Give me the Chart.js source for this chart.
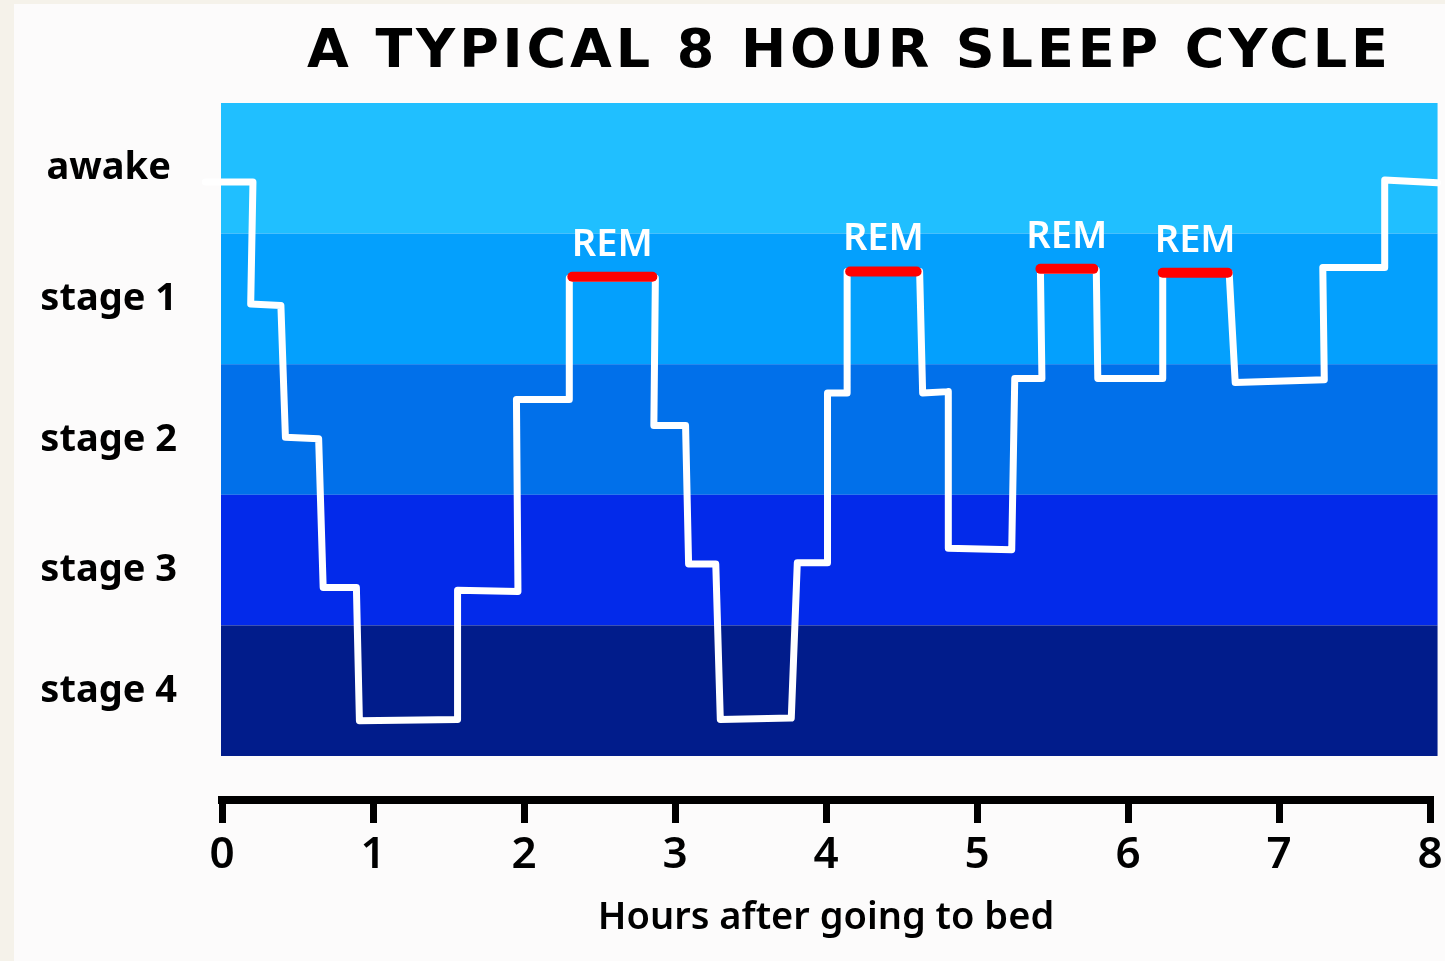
<!DOCTYPE html>
<html>
<head>
<meta charset="utf-8">
<script src="https://cdn.jsdelivr.net/npm/chart.js@4.4.1/dist/chart.umd.min.js"></script>
<style>
  html, body { margin: 0; padding: 0; background: #fcfbfb; }
  canvas { display: block; }
</style>
</head>
<body>
<canvas id="sleepChart" width="1445" height="961"></canvas>
<script>
// values
const hourTicks = [0, 1, 2, 3, 4, 5, 6, 7, 8];
const stageLabels = ["awake", "stage 1", "stage 2", "stage 3", "stage 4"];
const stageLevels = [0, 1, 2, 3, 4];
// where each stage name sits against the bands
const stageLabelPos = [0, 1, 2.08, 3.08, 4];
const bandColors = ["#20bfff", "#04a0fd", "#0170ea", "#032aea", "#011c8b"];

// hours after going to bed / depth (0 = awake, 4 = stage 4)
const sleepHours = [-0.11, 0.205, 0.19, 0.39, 0.42, 0.64, 0.67, 0.89, 0.91, 1.56,
  1.56, 1.96, 1.95, 2.30, 2.30, 2.87, 2.86, 3.07, 3.09, 3.27,
  3.30, 3.77, 3.81, 4.01, 4.01, 4.14, 4.14, 4.62, 4.64, 4.81,
  4.81, 5.23, 5.25, 5.43, 5.42, 5.79, 5.80, 6.23, 6.23, 6.67,
  6.71, 7.30, 7.29, 7.70, 7.70, 8.05];
const sleepStage = [0.105, 0.105, 1.04, 1.05, 2.06, 2.07, 3.21, 3.21, 4.23, 4.22,
  3.23, 3.24, 1.77, 1.77, 0.84, 0.84, 1.97, 1.97, 3.03, 3.03,
  4.22, 4.21, 3.02, 3.02, 1.72, 1.72, 0.79, 0.79, 1.72, 1.71,
  2.91, 2.92, 1.61, 1.61, 0.78, 0.78, 1.61, 1.61, 0.80, 0.80,
  1.64, 1.62, 0.76, 0.76, 0.09, 0.11];

// REM periods
const remStart = [2.32, 4.16, 5.42, 6.23];
const remEnd = [2.85, 4.60, 5.77, 6.66];
const remLevel = [0.83, 0.79, 0.77, 0.80];
const remLabel = "REM";

const TITLE = "A TYPICAL 8 HOUR SLEEP CYCLE";

const backgroundPlugin = {
  id: "pageBackground",
  beforeDraw(chart) {
    const ctx = chart.ctx;
    ctx.save();
    ctx.fillStyle = "#f5f2ea";
    ctx.fillRect(0, 0, chart.width, chart.height);
    ctx.fillStyle = "#fcfbfb";
    ctx.fillRect(14, 4, chart.width - 14, chart.height - 4);
    ctx.restore();
  },
};

const bandsPlugin = {
  id: "stageBands",
  beforeDatasetsDraw(chart) {
    const { ctx, chartArea, scales } = chart;
    const right = scales.x.getPixelForValue(8.05);
    ctx.save();
    bandColors.forEach((c, i) => {
      const top = scales.y.getPixelForValue(stageLevels[i] - 0.5);
      const bottom = scales.y.getPixelForValue(stageLevels[i] + 0.5);
      ctx.fillStyle = c;
      ctx.fillRect(chartArea.left - 1, top, right - chartArea.left + 1, bottom - top);
    });
    ctx.restore();
  },
};

const remTextPlugin = {
  id: "remText",
  afterDatasetsDraw(chart) {
    const { ctx, scales } = chart;
    ctx.save();
    ctx.font = "600 38px 'Noto Sans'";
    ctx.fillStyle = "#ffffff";
    ctx.textAlign = "center";
    ctx.textBaseline = "middle";
    remStart.forEach((s, i) => {
      const x = scales.x.getPixelForValue((s + remEnd[i]) / 2);
      const y = scales.y.getPixelForValue(remLevel[i]) - 32;
      ctx.fillText(remLabel, x, y);
    });
    ctx.restore();
  },
};

const titlePlugin = {
  id: "bigTitle",
  afterDraw(chart) {
    const ctx = chart.ctx;
    ctx.save();
    ctx.font = "bold 54px 'DejaVu Sans'";
    ctx.fillStyle = "#000";
    ctx.textAlign = "left";
    ctx.textBaseline = "alphabetic";
    const w = ctx.measureText(TITLE).width;
    ctx.letterSpacing = ((1081 - w) / (TITLE.length - 1)) + "px";
    ctx.fillText(TITLE, 307, 67);
    ctx.restore();
  },
};

const datasets = remStart.map((s, i) => ({
  label: remLabel,
  data: [{ x: s, y: remLevel[i] }, { x: remEnd[i], y: remLevel[i] }],
  borderColor: "#ff0000",
  borderWidth: 10,
  borderCapStyle: "round",
  pointRadius: 0,
  clip: false,
  order: 0,
}));
datasets.push({
  label: "Sleep stage",
  data: sleepHours.map((h, i) => ({ x: h, y: sleepStage[i] })),
  borderColor: "#ffffff",
  borderWidth: 7,
  borderJoinStyle: "round",
  borderCapStyle: "round",
  pointRadius: 0,
  tension: 0,
  clip: false,
  order: 1,
});

const ctx = document.getElementById("sleepChart");

new Chart(ctx, {
  type: "line",
  data: { datasets },
  options: {
    responsive: false,
    animation: false,
    layout: { padding: { top: 103, right: 15, bottom: 0, left: 0 } },
    plugins: {
      legend: { display: false },
      tooltip: { enabled: false },
    },
    scales: {
      x: {
        type: "linear",
        min: 0,
        max: 8,
        afterBuildTicks: (s) => { s.ticks = hourTicks.map((v) => ({ value: v })); },
        afterFit: (s) => {
          s.height = 161;
          s.paddingLeft = 0;
          s.paddingRight = 0;
        },
        grid: {
          drawOnChartArea: false,
          drawTicks: true,
          tickLength: 23,
          tickWidth: 7,
          tickColor: "#000",
          lineWidth: 7,
          color: "#000",
        },
        border: { display: true, color: "#000", width: 8 },
        ticks: {
          font: { family: "Noto Sans", size: 44, weight: "600" },
          color: "#000",
          padding: 6,
          maxRotation: 0,
        },
        title: {
          display: true,
          text: "Hours after going to bed",
          font: { family: "Noto Sans", size: 38, weight: "600" },
          color: "#000",
          padding: { top: 0, bottom: 20 },
        },
      },
      y: {
        type: "linear",
        reverse: true,
        min: -0.5,
        max: 4.837,
        afterBuildTicks: (s) => { s.ticks = stageLabelPos.map((v) => ({ value: v })); },
        afterFit: (s) => { s.width = 222; },
        grid: { display: false },
        border: { display: false },
        ticks: {
          callback: (v, i) => stageLabels[i],
          font: { family: "Noto Sans", size: 38, weight: "700" },
          color: "#000",
          crossAlign: "center",
          padding: 37,
        },
      },
    },
  },
  plugins: [backgroundPlugin, bandsPlugin, remTextPlugin, titlePlugin],
});
</script>
</body>
</html>
